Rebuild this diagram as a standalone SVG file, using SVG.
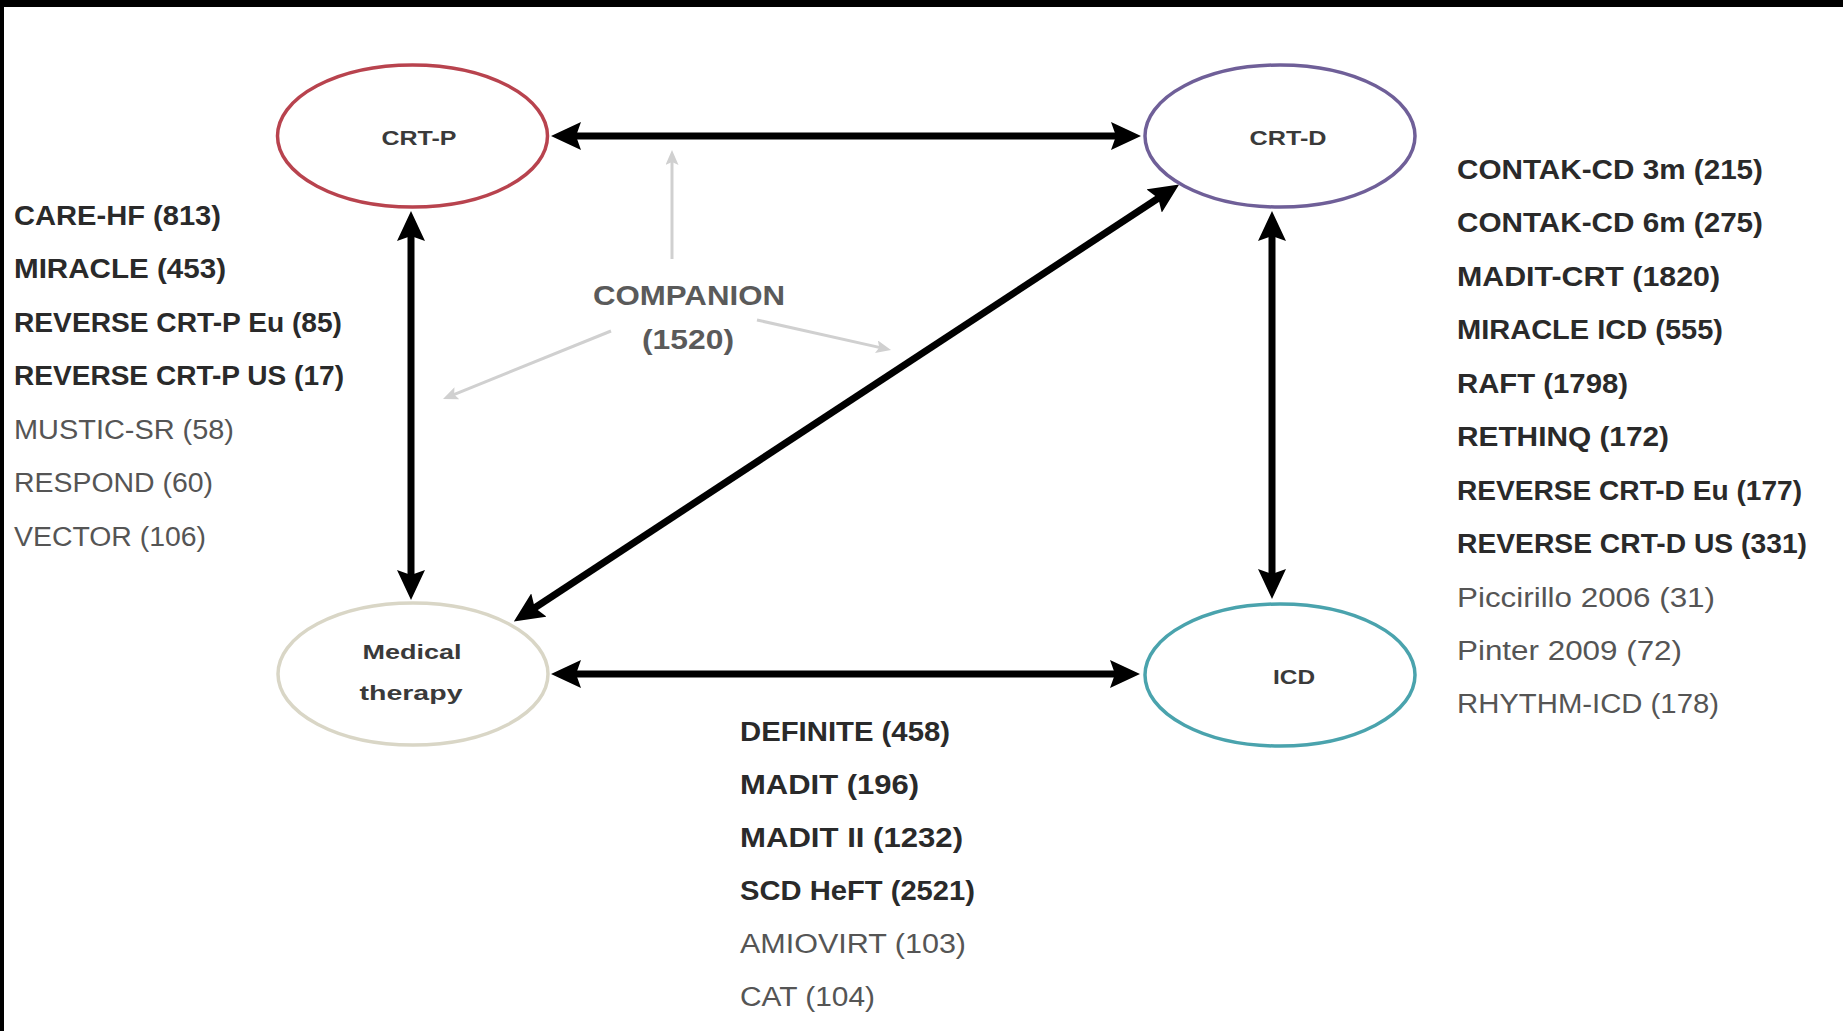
<svg xmlns="http://www.w3.org/2000/svg" width="1843" height="1031" viewBox="0 0 1843 1031">
<style>
.node{fill:#ffffff;stroke-width:3.5}
.lbl{font-family:"Liberation Sans",Arial,sans-serif;font-weight:bold;font-size:21px;fill:#3a3a3a;text-anchor:middle}
.b{font-family:"Liberation Sans",Arial,sans-serif;font-weight:bold;font-size:27px;fill:#2a2a2a}
.r{font-family:"Liberation Sans",Arial,sans-serif;font-weight:normal;font-size:27px;fill:#555555}
.comp{font-family:"Liberation Sans",Arial,sans-serif;font-weight:bold;font-size:27px;fill:#5a5a5a;text-anchor:middle}
.thick{stroke:#000000;stroke-width:7;fill:none;marker-start:url(#ah);marker-end:url(#ah)}
.thin{stroke:#d0d0d0;stroke-width:3;fill:none;marker-end:url(#gh)}
</style>
<defs>
<marker id="ah" markerUnits="userSpaceOnUse" markerWidth="30" markerHeight="28" viewBox="0 0 30 28" refX="9" refY="14" orient="auto-start-reverse">
<path d="M0,0 L30,14 L0,28 L5,14 Z" fill="#000000"/>
</marker>
<marker id="gh" markerUnits="userSpaceOnUse" markerWidth="15" markerHeight="13" viewBox="0 0 15 13" refX="4" refY="6.5" orient="auto">
<path d="M0,0 L15,6.5 L0,13 L3,6.5 Z" fill="#d0d0d0"/>
</marker>
</defs>
<rect x="0" y="0" width="1843" height="1031" fill="#ffffff"/>
<rect x="0" y="0" width="1843" height="7" fill="#000000"/>
<rect x="0" y="0" width="4" height="1031" fill="#000000"/>

<g id="connectors">
<line class="thick" x1="572" y1="136" x2="1120" y2="136"/>
<line class="thick" x1="572" y1="674" x2="1119" y2="674"/>
<line class="thick" x1="411" y1="232" x2="411" y2="579"/>
<line class="thick" x1="1272" y1="232" x2="1272" y2="578"/>
<line class="thick" x1="531.4" y1="610" x2="1161.6" y2="196"/>
<line class="thin" x1="672" y1="259" x2="672" y2="161"/>
<line class="thin" x1="611" y1="331" x2="453.2" y2="394.8"/>
<line class="thin" x1="757" y1="320" x2="880.3" y2="347.6"/>
</g>

<g id="node-crtp">
<ellipse class="node" cx="412.5" cy="136" rx="135" ry="71" stroke="#b8434e"/>
<text class="lbl" x="419" y="145" textLength="75" lengthAdjust="spacingAndGlyphs">CRT-P</text>
</g>
<g id="node-crtd">
<ellipse class="node" cx="1280" cy="136" rx="135" ry="71" stroke="#6f5f98"/>
<text class="lbl" x="1288" y="145" textLength="77" lengthAdjust="spacingAndGlyphs">CRT-D</text>
</g>
<g id="node-medical">
<ellipse class="node" cx="413" cy="674" rx="135" ry="71" stroke="#d9d6c6"/>
<text class="lbl" x="412" y="659" textLength="99" lengthAdjust="spacingAndGlyphs">Medical</text>
<text class="lbl" x="411" y="700" textLength="103" lengthAdjust="spacingAndGlyphs">therapy</text>
</g>
<g id="node-icd">
<ellipse class="node" cx="1280" cy="675" rx="135" ry="71" stroke="#4aa3ad"/>
<text class="lbl" x="1294" y="684" textLength="42" lengthAdjust="spacingAndGlyphs">ICD</text>
</g>

<g id="companion">
<text class="comp" x="689" y="305" textLength="192" lengthAdjust="spacingAndGlyphs">COMPANION</text>
<text class="comp" x="688" y="349" textLength="92" lengthAdjust="spacingAndGlyphs">(1520)</text>
</g>

<g id="list-crtp">
<text class="b" x="14" y="225" textLength="207" lengthAdjust="spacingAndGlyphs">CARE-HF (813)</text>
<text class="b" x="14" y="278" textLength="212" lengthAdjust="spacingAndGlyphs">MIRACLE (453)</text>
<text class="b" x="14" y="332" textLength="328" lengthAdjust="spacingAndGlyphs">REVERSE CRT-P Eu (85)</text>
<text class="b" x="14" y="385" textLength="330" lengthAdjust="spacingAndGlyphs">REVERSE CRT-P US (17)</text>
<text class="r" x="14" y="439" textLength="220" lengthAdjust="spacingAndGlyphs">MUSTIC-SR (58)</text>
<text class="r" x="14" y="492" textLength="199" lengthAdjust="spacingAndGlyphs">RESPOND (60)</text>
<text class="r" x="14" y="546" textLength="192" lengthAdjust="spacingAndGlyphs">VECTOR (106)</text>
</g>

<g id="list-crtd">
<text class="b" x="1457" y="179" textLength="306" lengthAdjust="spacingAndGlyphs">CONTAK-CD 3m (215)</text>
<text class="b" x="1457" y="232" textLength="306" lengthAdjust="spacingAndGlyphs">CONTAK-CD 6m (275)</text>
<text class="b" x="1457" y="286" textLength="263" lengthAdjust="spacingAndGlyphs">MADIT-CRT (1820)</text>
<text class="b" x="1457" y="339" textLength="266" lengthAdjust="spacingAndGlyphs">MIRACLE ICD (555)</text>
<text class="b" x="1457" y="393" textLength="171" lengthAdjust="spacingAndGlyphs">RAFT (1798)</text>
<text class="b" x="1457" y="446" textLength="212" lengthAdjust="spacingAndGlyphs">RETHINQ (172)</text>
<text class="b" x="1457" y="500" textLength="345" lengthAdjust="spacingAndGlyphs">REVERSE CRT-D Eu (177)</text>
<text class="b" x="1457" y="553" textLength="350" lengthAdjust="spacingAndGlyphs">REVERSE CRT-D US (331)</text>
<text class="r" x="1457" y="607" textLength="258" lengthAdjust="spacingAndGlyphs">Piccirillo 2006 (31)</text>
<text class="r" x="1457" y="660" textLength="225" lengthAdjust="spacingAndGlyphs">Pinter 2009 (72)</text>
<text class="r" x="1457" y="713" textLength="262" lengthAdjust="spacingAndGlyphs">RHYTHM-ICD (178)</text>
</g>

<g id="list-icd">
<text class="b" x="740" y="741" textLength="210" lengthAdjust="spacingAndGlyphs">DEFINITE (458)</text>
<text class="b" x="740" y="794" textLength="179" lengthAdjust="spacingAndGlyphs">MADIT (196)</text>
<text class="b" x="740" y="847" textLength="223" lengthAdjust="spacingAndGlyphs">MADIT II (1232)</text>
<text class="b" x="740" y="900" textLength="235" lengthAdjust="spacingAndGlyphs">SCD HeFT (2521)</text>
<text class="r" x="740" y="953" textLength="226" lengthAdjust="spacingAndGlyphs">AMIOVIRT (103)</text>
<text class="r" x="740" y="1006" textLength="135" lengthAdjust="spacingAndGlyphs">CAT (104)</text>
</g>
</svg>
